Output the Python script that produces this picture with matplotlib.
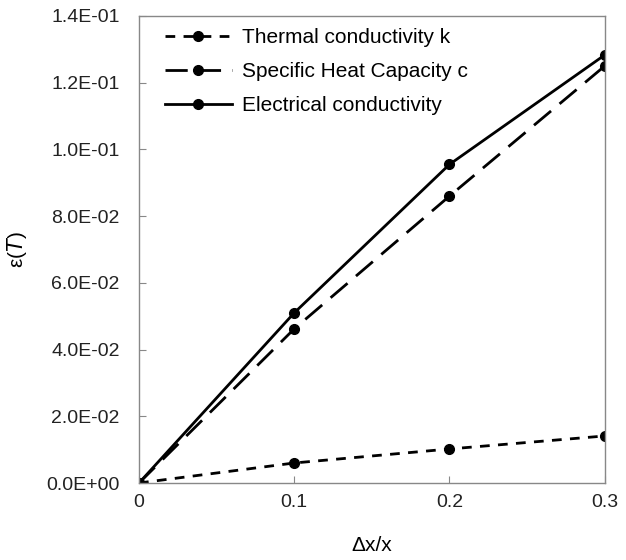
import matplotlib
matplotlib.use("Agg")
import matplotlib.pyplot as plt
from matplotlib.ticker import FuncFormatter

plt.rcParams['font.family'] = ['Liberation Sans', 'DejaVu Sans']

x = [0, 0.1, 0.2, 0.3]
thermal = [0.0, 0.0060, 0.0102, 0.0141]
specific = [0.0, 0.0462, 0.0860, 0.1250]
electrical = [0.0, 0.0510, 0.0955, 0.1283]
labels = ["Thermal conductivity k", "Specific Heat Capacity c", "Electrical conductivity"]

fig = plt.figure(figsize=(6.26, 5.6), dpi=100)
ax = fig.add_axes([0.222, 0.1375, 0.744, 0.834])

ax.plot(x, thermal, color='black', lw=2, linestyle=(0, (3.5, 3)), marker='o', ms=7, label=labels[0])
ax.plot(x, specific, color='black', lw=2, linestyle=(0, (8, 4)), marker='o', ms=7, label=labels[1])
ax.plot(x, electrical, color='black', lw=2, linestyle='-', marker='o', ms=7, label=labels[2])

ax.set_xlim(0, 0.3)
ax.set_ylim(0, 0.14)
ax.set_xticks([0, 0.1, 0.2, 0.3])
ax.set_xticklabels(['0', '0.1', '0.2', '0.3'])
ax.set_yticks([0, 0.02, 0.04, 0.06, 0.08, 0.10, 0.12, 0.14])

def fmt(v, pos):
    s = "%.1E" % v
    mant, exp = s.split('E')
    sign = exp[0]
    e = int(exp[1:])
    return mant + "E" + sign + "%02d" % e

ax.yaxis.set_major_formatter(FuncFormatter(fmt))
ax.tick_params(direction='in', length=5, color='#888888', labelsize=14)
ax.tick_params(axis='y', pad=14)
ax.tick_params(axis='x', pad=8)
for sp in ax.spines.values():
    sp.set_color('#888888')
    sp.set_linewidth(1)
for lab in ax.get_xticklabels() + ax.get_yticklabels():
    lab.set_color('#222222')

ax.set_xlabel(r"Δx/x", fontsize=15, labelpad=18)
ax.set_ylabel(r"ε($\it{T}$)", fontsize=15, labelpad=12)

leg = ax.legend(loc='upper left', bbox_to_anchor=(0.029, 1.0), frameon=False, fontsize=15,
                handlelength=3.2, borderaxespad=0.2, labelspacing=0.72, handletextpad=0.5)

fig.savefig("out.png", dpi=100)
